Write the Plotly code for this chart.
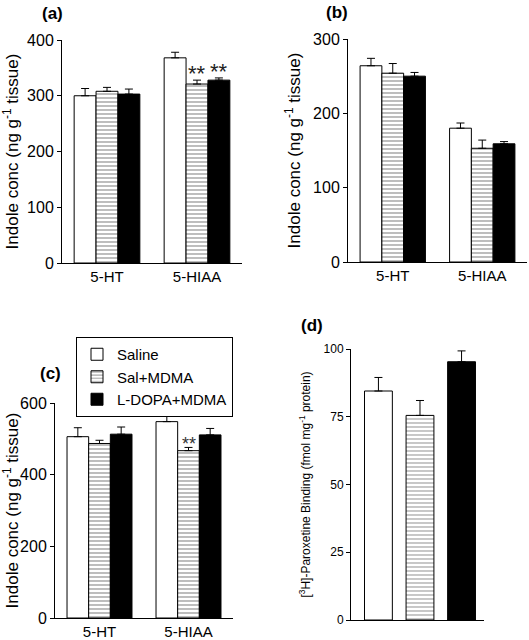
import plotly.graph_objects as go

# ---------------- data ----------------
groups = ["Saline", "Sal+MDMA", "L-DOPA+MDMA"]
indoles = ["5-HT", "5-HIAA"]

# panel (a)
a_saline = [300, 368]
a_saline_err = [13, 10]
a_salmdma = [308, 321]
a_salmdma_err = [7, 7]
a_ldopa = [303, 328]
a_ldopa_err = [9, 4]

# panel (b)
b_saline = [264, 180]
b_saline_err = [10, 7]
b_salmdma = [254, 153]
b_salmdma_err = [13, 11]
b_ldopa = [250, 159]
b_ldopa_err = [5, 3]

# panel (c)
c_saline = [506, 548]
c_saline_err = [25, 22]
c_salmdma = [487, 467]
c_salmdma_err = [9, 9]
c_ldopa = [513, 511]
c_ldopa_err = [20, 18]

# panel (d)
d_binding = [84.5, 75.5, 95.3]
d_binding_err = [5, 5.5, 4]

a_ticks = [0, 100, 200, 300, 400]
b_ticks = [0, 100, 200, 300]
c_ticks = [0, 200, 400, 600]
d_ticks = [0, 25, 50, 75, 100]

# significance marks: (group index, indole index)
a_sig = [(1, 1), (2, 1)]
c_sig = [(1, 1)]

# ---------------- styling ----------------
FONT = "Liberation Sans, Arial, sans-serif"
BARGAP = 0.27
styles = [
    dict(color="white", pattern=dict(shape="")),
    dict(color="white", pattern=dict(shape="-", fgcolor="#222222", bgcolor="white", size=4, solidity=0.3)),
    dict(color="black", pattern=dict(shape="")),
]

fig = go.Figure()

panels = [
    ("x", "y", [a_saline, a_salmdma, a_ldopa], [a_saline_err, a_salmdma_err, a_ldopa_err]),
    ("x2", "y2", [b_saline, b_salmdma, b_ldopa], [b_saline_err, b_salmdma_err, b_ldopa_err]),
    ("x3", "y3", [c_saline, c_salmdma, c_ldopa], [c_saline_err, c_salmdma_err, c_ldopa_err]),
]

for xa, ya, vals, errs in panels:
    for i, g in enumerate(groups):
        fig.add_trace(go.Bar(
            x=indoles, y=vals[i], name=g, xaxis=xa, yaxis=ya,
            legendgroup=g, showlegend=(xa == "x3"),
            marker=dict(color=styles[i]["color"], pattern=styles[i]["pattern"],
                        line=dict(color="black", width=1)),
            error_y=dict(type="data", array=errs[i], arrayminus=[0] * len(errs[i]),
                         symmetric=False, color="black", thickness=1, width=4),
        ))

# panel (d): one trace, per-bar styles
fig.add_trace(go.Bar(
    x=groups, y=d_binding, xaxis="x4", yaxis="y4", showlegend=False, width=0.67,
    marker=dict(color=["white", "white", "black"],
                pattern=dict(shape=["", "-", ""], fgcolor="#222222", bgcolor="white",
                             size=4, solidity=0.3),
                line=dict(color="black", width=1)),
    error_y=dict(type="data", array=d_binding_err, arrayminus=[0, 0, 0],
                 symmetric=False, color="black", thickness=1, width=4),
))

W, H = 529, 640


def xdom(l, r):
    return [l / W, r / W]


def ydom(bottom, top):
    return [1 - bottom / H, 1 - top / H]


xbase = dict(showline=True, linecolor="black", linewidth=1, ticks="", showgrid=False,
             zeroline=False, automargin=False,
             tickfont=dict(size=15, color="black", family=FONT))
ybase = dict(showline=True, linecolor="black", linewidth=1, ticks="outside", ticklen=4,
             tickcolor="black", showgrid=False, zeroline=False, automargin=False,
             tickfont=dict(size=16, color="black", family=FONT))
ytitle = "Indole conc (ng g<sup>-1</sup> tissue)"

fig.update_layout(
    width=W, height=H, margin=dict(l=0, r=0, t=0, b=0, autoexpand=False),
    paper_bgcolor="white", plot_bgcolor="white",
    barmode="group", bargap=BARGAP, bargroupgap=0,
    font=dict(family=FONT, color="black"),
    xaxis=dict(xbase, domain=xdom(62, 242), anchor="y", range=[-0.5, 1.5]),
    yaxis=dict(ybase, domain=ydom(263, 40), anchor="x", range=[0, 400], tickvals=a_ticks,
               title=dict(text=ytitle, font=dict(size=17), standoff=5)),
    xaxis2=dict(xbase, domain=xdom(348, 527), anchor="y2", range=[-0.5, 1.5]),
    yaxis2=dict(ybase, domain=ydom(262, 39), anchor="x2", range=[0, 300], tickvals=b_ticks,
                title=dict(text=ytitle, font=dict(size=17), standoff=8)),
    xaxis3=dict(xbase, domain=xdom(55, 233), anchor="y3", range=[-0.5, 1.5]),
    yaxis3=dict(ybase, domain=ydom(618, 403), anchor="x3", range=[0, 600], tickvals=c_ticks,
                title=dict(text=ytitle, font=dict(size=17), standoff=4)),
    xaxis4=dict(xbase, domain=xdom(351, 484), anchor="y4", range=[-0.66, 2.54],
                showticklabels=False),
    yaxis4=dict(ybase, domain=ydom(620, 349), anchor="x4", range=[0, 100], tickvals=d_ticks,
                tickfont=dict(size=12, color="black", family=FONT),
                title=dict(text="[<sup>3</sup>H]-Paroxetine Binding (fmol mg<sup>-1</sup> protein)",
                           font=dict(size=12), standoff=10)),
    legend=dict(x=76 / W, y=1 - 337 / H, xanchor="left", yanchor="top",
                bordercolor="black", borderwidth=1, bgcolor="white",
                font=dict(size=15, family=FONT, color="black"),
                tracegroupgap=0, itemwidth=30),
)

# panel letters
for txt, x, y in [("(a)", 52, 14), ("(b)", 337, 12), ("(c)", 50, 373), ("(d)", 312, 325)]:
    fig.add_annotation(text="<b>%s</b>" % txt, x=x / W, y=1 - y / H, xref="paper", yref="paper",
                       xanchor="center", yanchor="middle",
                       showarrow=False, font=dict(size=17, family=FONT, color="black"))

# significance asterisks
bw = (1 - BARGAP) / 3
for (gi, ii) in a_sig:
    vals = [a_saline, a_salmdma, a_ldopa][gi]
    errs = [a_saline_err, a_salmdma_err, a_ldopa_err][gi]
    fig.add_annotation(text="**", x=ii + (gi - 1) * bw, y=vals[ii] + errs[ii], xref="x", yref="y",
                       showarrow=False, yanchor="bottom", yshift=-8,
                       font=dict(size=22, family=FONT, color="#222222"))
for (gi, ii) in c_sig:
    vals = [c_saline, c_salmdma, c_ldopa][gi]
    errs = [c_saline_err, c_salmdma_err, c_ldopa_err][gi]
    fig.add_annotation(text="**", x=ii + (gi - 1) * bw, y=vals[ii] + errs[ii], xref="x3", yref="y3",
                       showarrow=False, yanchor="bottom", yshift=-9,
                       font=dict(size=18, family=FONT, color="#333333"))

fig.write_html("out.html", config={"displayModeBar": False},
               post_script="document.body.style.margin='0';")
